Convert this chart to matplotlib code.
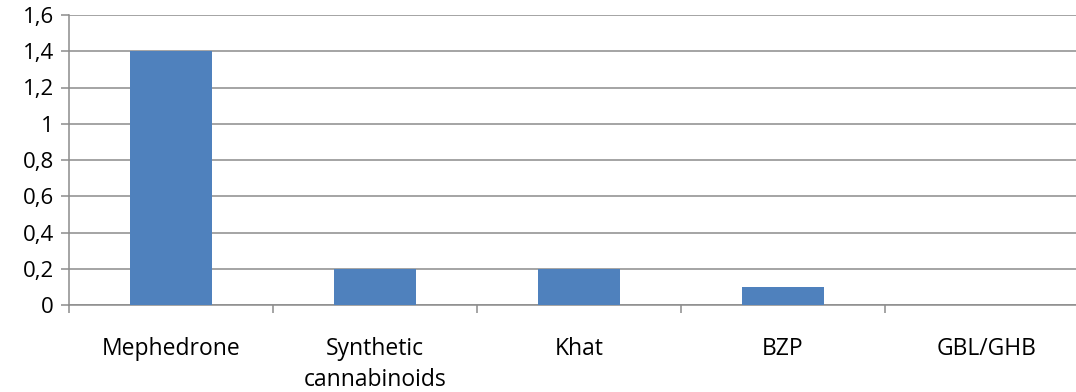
import matplotlib.pyplot as plt
from matplotlib.ticker import FuncFormatter

# substances and values
categories = ["Mephedrone", "Synthetic\ncannabinoids", "Khat", "BZP", "GBL/GHB"]
values = [1.4, 0.2, 0.2, 0.1, 0.0]
y_ticks = [0, 0.2, 0.4, 0.6, 0.8, 1.0, 1.2, 1.4, 1.6]

plt.rcParams["font.family"] = ["Open Sans", "DejaVu Sans"]

W, H = 1076, 392
fig = plt.figure(figsize=(W / 100, H / 100), dpi=100)
ax = fig.add_axes([69 / W, 87 / H, 1020 / W, 290 / H])

x = range(len(categories))
ax.bar(x, values, width=0.4, color="#4F81BD", zorder=3)

ax.set_xlim(-0.5, len(categories) - 0.5)
ax.set_ylim(0, 1.6)
ax.set_yticks(y_ticks)
ax.yaxis.set_major_formatter(
    FuncFormatter(lambda v, p: ("%g" % round(v, 1)).replace(".", ","))
)
ax.grid(axis="y", color="#8c8c8c", linewidth=1.1, zorder=0)

# category labels between boundary ticks
ax.set_xticks([i + 0.5 for i in range(-1, len(categories))])
ax.set_xticklabels([])
ax.set_xticks(list(x), minor=True)
ax.set_xticklabels(categories, minor=True, fontsize=16.5, linespacing=1.4,
                   va="top")
ax.tick_params(axis="x", which="minor", length=0, pad=23)
ax.tick_params(axis="x", which="major", length=6, color="#8c8c8c", width=1.1)
ax.tick_params(axis="y", length=6, color="#8c8c8c", width=1.1,
               labelsize=16, pad=5)

for s in ["top", "right"]:
    ax.spines[s].set_visible(False)
for s in ["left", "bottom"]:
    ax.spines[s].set_color("#8c8c8c")
    ax.spines[s].set_linewidth(1.1)

fig.savefig("out.png", dpi=100)
